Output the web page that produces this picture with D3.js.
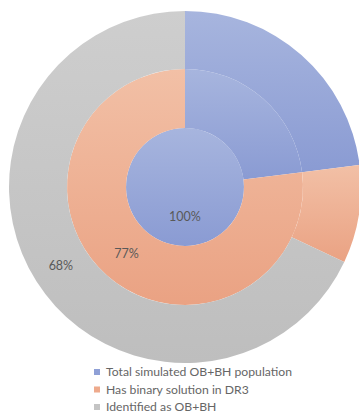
<!DOCTYPE html>
<html>
<head>
<meta charset="utf-8">
<script src="https://cdn.jsdelivr.net/npm/d3@7"></script>
<style>
  body { margin: 0; background: #fff; }
  text { font-family: Lato, "Open Sans", sans-serif; }
</style>
</head>
<body>
<div id="chart"></div>
<script>
// categories (legend order) and ring values, inner to outer
var categories = ["Total simulated OB+BH population", "Has binary solution in DR3", "Identified as OB+BH"];
var innerRing = [100, 0, 0];
var middleRing = [23, 77, 0];
var outerRing = [23, 9, 68];
var labels = ["100%", "77%", "68%"];

function init() {
    var w = 359;
    var h = 416;
    var cx = 185, cy = 187;
    var radii = [0, 59, 118, 176];

    var svg = d3.select("#chart")
        .append("svg")
        .attr("width", w)
        .attr("height", h);

    // excel style vertical gradients, one per category
    var shades = [["#a7b5de", "#8a9bd3"], ["#f2c0a6", "#eaa283"], ["#cecece", "#bebebe"]];
    var defs = svg.append("defs");
    shades.forEach(function (s, i) {
        var g = defs.append("linearGradient")
            .attr("id", "grad" + i)
            .attr("x1", 0).attr("y1", 0).attr("x2", 0).attr("y2", 1);
        g.append("stop").attr("offset", "0%").attr("stop-color", s[0]);
        g.append("stop").attr("offset", "100%").attr("stop-color", s[1]);
    });

    var pie = d3.pie().sort(null).value(function (d) { return d; });
    var rings = [innerRing, middleRing, outerRing];
    var g = svg.append("g").attr("transform", "translate(" + cx + "," + cy + ")");

    rings.forEach(function (ring, r) {
        var arc = d3.arc().innerRadius(radii[r]).outerRadius(radii[r + 1]);
        var slices = pie(ring);

        g.append("g").selectAll("path")
            .data(slices.filter(function (d) { return d.value > 0; }))
            .enter()
            .append("path")
            .attr("d", arc)
            .attr("fill", function (d) { return "url(#grad" + d.index + ")"; });

        // each ring shows the label of its own category
        var s = slices[r];
        var c = arc.centroid(s);
        g.append("text")
            .attr("x", c[0])
            .attr("y", c[1])
            .attr("text-anchor", "middle")
            .attr("dy", "0.35em")
            .attr("font-size", 12.5)
            .attr("fill", "#595959")
            .text(labels[r]);
    });

    // legend
    var legend = svg.append("g").attr("transform", "translate(94,372)");
    var colors = ["#8fa0d6", "#eeaa8c", "#c4c4c4"];
    var item = legend.selectAll("g")
        .data(categories)
        .enter()
        .append("g")
        .attr("transform", function (d, i) { return "translate(0," + (i * 17.5) + ")"; });
    item.append("rect")
        .attr("x", 0).attr("y", -3)
        .attr("width", 6).attr("height", 6)
        .attr("fill", function (d, i) { return colors[i]; });
    item.append("text")
        .attr("x", 12)
        .attr("dy", "0.35em")
        .attr("font-size", 12.2)
        .attr("fill", "#666666")
        .text(function (d) { return d; });
}

window.onload = init;
</script>
</body>
</html>
